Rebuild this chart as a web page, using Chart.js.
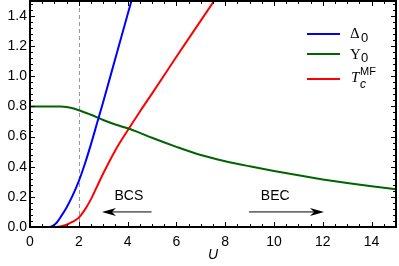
<!DOCTYPE html>
<html lang="en">
<head>
    <meta charset="UTF-8">
    <title>Delta0 Upsilon0 Tc</title>
    <script src="https://cdn.jsdelivr.net/npm/chart.js"></script>
    <style>
        html, body { margin: 0; padding: 0; background: #fff; }
        #wrap { width: 399px; height: 266px; }
    </style>
</head>
<body>
    <div id="wrap"><canvas id="chart" width="399" height="266"></canvas></div>

    <script>
        // data
        const uVals = [0, 0.5, 0.8, 1, 1.1, 1.25, 1.5, 1.75, 2, 2.25, 2.5, 2.75, 3, 3.5, 4, 4.5, 5, 6, 7, 8, 9, 10, 11, 12, 13, 14, 15];
        const delta0 = [0, 0, 0, 0.015, 0.03, 0.065, 0.13, 0.21, 0.305, 0.42, 0.55, 0.69, 0.83, 1.12, 1.41, 1.7, null, null, null, null, null, null, null, null, null, null, null];
        const upsilon0 = [0.8, 0.8, 0.8, 0.8, 0.8, 0.8, 0.797, 0.788, 0.775, 0.76, 0.745, 0.728, 0.71, 0.68, 0.655, 0.625, 0.592, 0.532, 0.478, 0.437, 0.403, 0.372, 0.343, 0.316, 0.292, 0.27, 0.25];
        const tcMF = [0, 0, 0, 0, 0, 0.004, 0.015, 0.035, 0.062, 0.115, 0.185, 0.27, 0.355, 0.51, 0.64, 0.765, 0.885, 1.13, 1.37, 1.61, null, null, null, null, null, null, null];
        const xTicks = [0, 2, 4, 6, 8, 10, 12, 14];
        const yTicks = [0.0, 0.2, 0.4, 0.6, 0.8, 1.0, 1.2, 1.4];
        const seriesColors = ['#0000ff', '#006400', '#ff0000'];

        const font = "'Liberation Sans', Arial, sans-serif";

        function pts(ys) {
            return uVals.map((u, i) => ({ x: u, y: ys[i] }));
        }

        // frame, inward ticks, dashed line, arrows, legend
        const decor = {
            id: 'decor',
            beforeDatasetsDraw(chart) {
                const { ctx, chartArea: a, scales: { x, y } } = chart;
                ctx.save();
                ctx.strokeStyle = '#999';
                ctx.lineWidth = 1;
                ctx.setLineDash([4, 3]);
                const xd = Math.round(x.getPixelForValue(2)) + 0.5;
                ctx.beginPath();
                ctx.moveTo(xd, a.top);
                ctx.lineTo(xd, a.bottom);
                ctx.stroke();
                ctx.restore();
            },
            afterDatasetsDraw(chart) {
                const { ctx, chartArea: a, scales: { x, y } } = chart;
                ctx.save();
                ctx.strokeStyle = '#000';
                ctx.lineWidth = 1;
                // ticks on x (bottom and top)
                for (let v = 0; v <= 15.001; v += 0.5) {
                    const px = Math.round(x.getPixelForValue(v)) + 0.5;
                    const len = (Math.abs(v % 2) < 0.001) ? 5 : 3;
                    ctx.beginPath();
                    ctx.moveTo(px, a.bottom); ctx.lineTo(px, a.bottom - len);
                    ctx.moveTo(px, a.top); ctx.lineTo(px, a.top + len);
                    ctx.stroke();
                }
                // ticks on y (left and right)
                for (let k = 0; k <= 37; k++) {
                    const v = k * 0.04;
                    const py = Math.round(y.getPixelForValue(v)) + 0.5;
                    const len = (k % 5 === 0) ? 5 : 3;
                    ctx.beginPath();
                    ctx.moveTo(a.left, py); ctx.lineTo(a.left + len, py);
                    ctx.moveTo(a.right, py); ctx.lineTo(a.right - len, py);
                    ctx.stroke();
                }
                // frame
                ctx.lineWidth = 2;
                ctx.strokeRect(a.left, a.top, a.right - a.left, a.bottom - a.top);

                // arrows BCS / BEC
                ctx.lineWidth = 1;
                ctx.fillStyle = '#000';
                const ay = y.getPixelForValue(0.1);
                function arrow(u0, u1) {
                    const p0 = x.getPixelForValue(u0), p1 = x.getPixelForValue(u1);
                    const dir = Math.sign(p1 - p0);
                    ctx.beginPath();
                    ctx.moveTo(p0, ay); ctx.lineTo(p1 - dir * 8, ay);
                    ctx.stroke();
                    ctx.beginPath();
                    ctx.moveTo(p1, ay);
                    ctx.lineTo(p1 - dir * 14, ay - 4);
                    ctx.lineTo(p1 - dir * 10, ay);
                    ctx.lineTo(p1 - dir * 14, ay + 4);
                    ctx.closePath();
                    ctx.fill();
                }
                arrow(4.98, 2.95);
                arrow(8.98, 12.05);
                ctx.font = '14px ' + font;
                ctx.textAlign = 'center';
                ctx.textBaseline = 'middle';
                ctx.fillText('BCS', x.getPixelForValue(4.05), y.getPixelForValue(0.205));
                ctx.fillText('BEC', x.getPixelForValue(10.05), y.getPixelForValue(0.205));

                // legend
                const ly = [34, 54, 79];
                for (let i = 0; i < 3; i++) {
                    ctx.strokeStyle = seriesColors[i];
                    ctx.lineWidth = 2;
                    ctx.beginPath();
                    ctx.moveTo(307, ly[i]); ctx.lineTo(340, ly[i]);
                    ctx.stroke();
                }
                ctx.fillStyle = '#000';
                ctx.textAlign = 'left';
                ctx.textBaseline = 'alphabetic';
                ctx.font = "15px 'Liberation Serif', 'DejaVu Serif', serif";
                ctx.fillText('Δ', 350, 38);
                ctx.fillText('Υ', 350, 59);
                ctx.font = "13px " + font;
                ctx.fillText('0', 361, 42);
                ctx.fillText('0', 361, 62);
                ctx.font = "italic 15px 'Liberation Serif', 'DejaVu Serif', serif";
                ctx.fillText('T', 351, 82);
                ctx.font = "italic 12px " + font;
                ctx.fillText('c', 360, 88);
                ctx.font = "11px " + font;
                ctx.fillText('MF', 360, 75);
                ctx.restore();
            }
        };

        const ctx = document.getElementById('chart').getContext('2d');
        new Chart(ctx, {
            type: 'line',
            data: {
                datasets: [
                    { label: 'Δ0', data: pts(delta0), borderColor: seriesColors[0] },
                    { label: 'Υ0', data: pts(upsilon0), borderColor: seriesColors[1] },
                    { label: 'Tc MF', data: pts(tcMF), borderColor: seriesColors[2] }
                ].map(d => Object.assign(d, {
                    borderWidth: 2,
                    pointRadius: 0,
                    fill: false,
                    cubicInterpolationMode: 'monotone',
                    spanGaps: false
                }))
            },
            options: {
                responsive: false,
                animation: false,
                layout: { padding: { left: 0, top: 1, right: 3, bottom: 0 } },
                plugins: {
                    legend: { display: false },
                    tooltip: { enabled: false }
                },
                scales: {
                    x: {
                        type: 'linear',
                        min: 0, max: 15,
                        afterBuildTicks: s => { s.ticks = xTicks.map(v => ({ value: v })); },
                        afterFit: s => { s.height = 39; s.paddingLeft = 0; s.paddingRight = 0; },
                        grid: { display: false, drawTicks: false },
                        border: { display: false },
                        ticks: {
                            color: '#000',
                            padding: 7,
                            maxRotation: 0,
                            font: { family: font, size: 14 },
                            callback: v => String(v)
                        },
                        title: {
                            display: true,
                            text: 'U',
                            color: '#000',
                            padding: { top: 0, bottom: 2 },
                            font: { family: font, size: 14, style: 'italic' }
                        }
                    },
                    y: {
                        min: 0, max: 1.5,
                        afterBuildTicks: s => { s.ticks = yTicks.map(v => ({ value: v })); },
                        afterFit: s => { s.width = 30; s.paddingTop = 0; s.paddingBottom = 0; },
                        grid: { display: false, drawTicks: false },
                        border: { display: false },
                        ticks: {
                            color: '#000',
                            padding: 3,
                            font: { family: font, size: 14 },
                            callback: v => v.toFixed(1)
                        }
                    }
                }
            },
            plugins: [decor]
        });
    </script>
</body>
</html>
